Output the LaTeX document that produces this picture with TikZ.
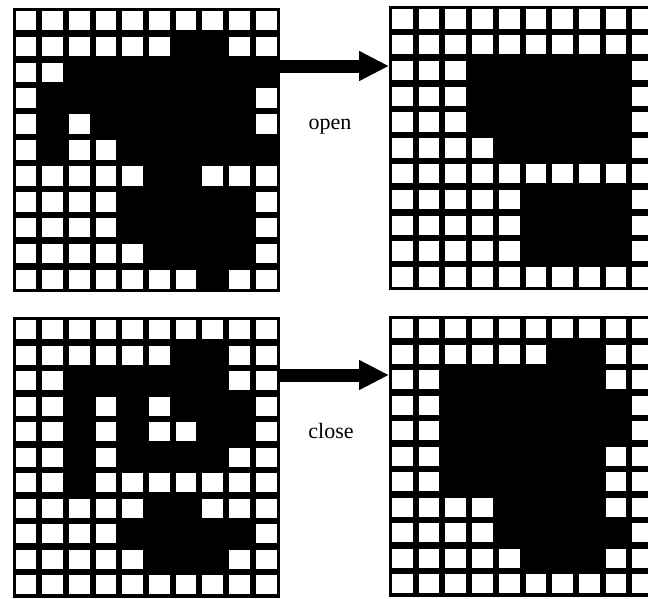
\documentclass[tikz,border=0pt]{standalone}
\usepackage{fontspec}
\setmainfont{Liberation Serif}
\usetikzlibrary{arrows.meta}

% a 10 x 11 grid of cells: name, left, top, row pitch, rows (1 = black, 0 = white)
\newcommand{\pixgrid}[5]{%
  \node[gridbox, minimum height=11*#4pt, anchor=north west] (#1) at (#2,#3) {};
  \foreach \cellrow [count=\rowno] in {#5} {
    \foreach \cellv [count=\colno] in \cellrow {
      \ifnum\cellv=0
        \fill[white] (#2+\colno*26.7-26.7+3, #3+\rowno*#4-#4+3.2) rectangle ++(20.7,#4-6.4);
      \fi
    }
  }
}

\begin{document}
\begin{tikzpicture}[
    x=1pt, y=-1pt,
    gridbox/.style={rectangle, fill=black, inner sep=0pt, outer sep=0pt, minimum width=267pt},
    arrow/.style={-{Triangle[length=30pt,width=28pt]}, line width=13pt},
    lbl/.style={anchor=base, font=\fontsize{22}{26}\selectfont}
]
\useasboundingbox (0,0) rectangle (648,598);
\clip (0,0) rectangle (648,598);

% open
\pixgrid{orig}{12.5}{7.5}{25.9}{
  {0,0,0,0,0,0,0,0,0,0},
  {0,0,0,0,0,0,1,1,0,0},
  {0,0,1,1,1,1,1,1,1,1},
  {0,1,1,1,1,1,1,1,1,0},
  {0,1,0,1,1,1,1,1,1,0},
  {0,1,0,0,1,1,1,1,1,1},
  {0,0,0,0,0,1,1,0,0,0},
  {0,0,0,0,1,1,1,1,1,0},
  {0,0,0,0,1,1,1,1,1,0},
  {0,0,0,0,0,1,1,1,1,0},
  {0,0,0,0,0,0,0,1,0,0}}
\pixgrid{opened}{389}{6}{25.8}{
  {0,0,0,0,0,0,0,0,0,0},
  {0,0,0,0,0,0,0,0,0,0},
  {0,0,0,1,1,1,1,1,1,0},
  {0,0,0,1,1,1,1,1,1,0},
  {0,0,0,1,1,1,1,1,1,0},
  {0,0,0,0,1,1,1,1,1,0},
  {0,0,0,0,0,0,0,0,0,0},
  {0,0,0,0,0,1,1,1,1,0},
  {0,0,0,0,0,1,1,1,1,0},
  {0,0,0,0,0,1,1,1,1,0},
  {0,0,0,0,0,0,0,0,0,0}}

% close
\pixgrid{holes}{12.5}{317}{25.5}{
  {0,0,0,0,0,0,0,0,0,0},
  {0,0,0,0,0,0,1,1,0,0},
  {0,0,1,1,1,1,1,1,0,0},
  {0,0,1,0,1,0,1,1,1,0},
  {0,0,1,0,1,0,0,1,1,0},
  {0,0,1,0,1,1,1,1,0,0},
  {0,0,1,0,0,0,0,0,0,0},
  {0,0,0,0,0,1,1,0,0,0},
  {0,0,0,0,1,1,1,1,1,0},
  {0,0,0,0,0,1,1,1,0,0},
  {0,0,0,0,0,0,0,0,0,0}}
\pixgrid{closed}{389}{316}{25.5}{
  {0,0,0,0,0,0,0,0,0,0},
  {0,0,0,0,0,0,1,1,0,0},
  {0,0,1,1,1,1,1,1,0,0},
  {0,0,1,1,1,1,1,1,1,0},
  {0,0,1,1,1,1,1,1,1,0},
  {0,0,1,1,1,1,1,1,0,0},
  {0,0,1,1,1,1,1,1,0,0},
  {0,0,0,0,1,1,1,1,0,0},
  {0,0,0,0,1,1,1,1,1,0},
  {0,0,0,0,0,1,1,1,0,0},
  {0,0,0,0,0,0,0,0,0,0}}

\coordinate (lvlA) at (0,66);
\coordinate (lvlB) at (0,375);
\draw[arrow] (orig.east |- lvlA) -- (opened.west |- lvlA);
\draw[arrow] (holes.east |- lvlB) -- (closed.west |- lvlB);

\node[lbl] (openlbl) at (330,129) {open};
\node[lbl] (closelbl) at (331,438) {close};
\end{tikzpicture}
\end{document}
